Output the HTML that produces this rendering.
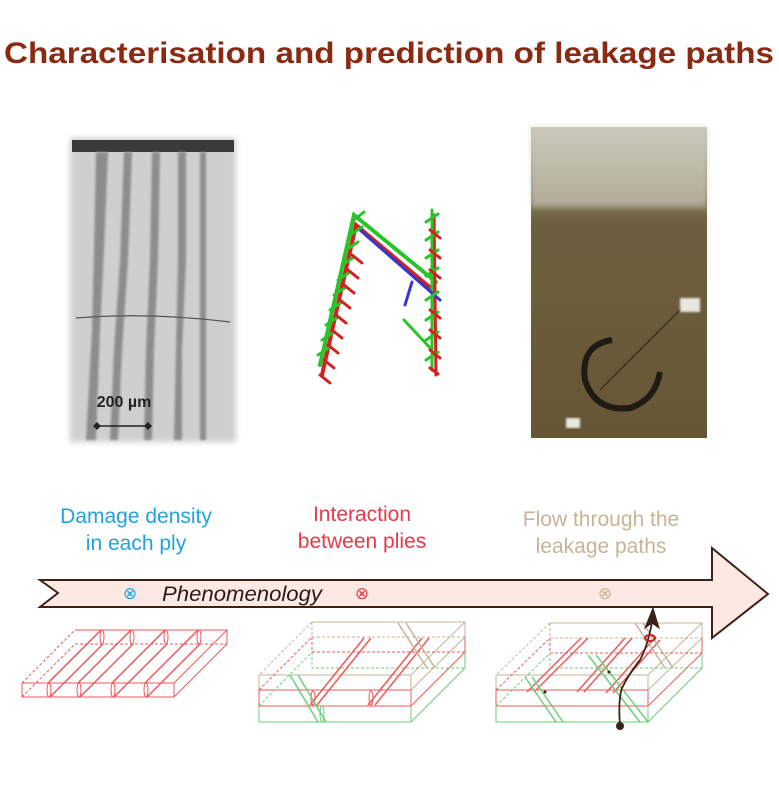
<!DOCTYPE html>
<html><head><meta charset="utf-8"><style>
body{margin:0;background:#fff;width:779px;height:781px;overflow:hidden;font-family:"Liberation Sans",Arial,sans-serif}
</style></head><body>
<svg width="779" height="781" viewBox="0 0 779 781" xmlns="http://www.w3.org/2000/svg">
<defs>
<filter id="bl"><feGaussianBlur stdDeviation="3"/></filter>
<filter id="bl1"><feGaussianBlur stdDeviation="1"/></filter>
<linearGradient id="rg" x1="0" y1="0" x2="0" y2="1">
<stop offset="0" stop-color="#c9c6b8"/><stop offset="0.2" stop-color="#9a9174"/><stop offset="0.3" stop-color="#6d5f3f"/><stop offset="1" stop-color="#675636"/></linearGradient>
</defs>
<text x="389" y="63" text-anchor="middle" font-size="30" font-weight="bold" fill="#8b2a12" textLength="770" lengthAdjust="spacingAndGlyphs">Characterisation and prediction of leakage paths</text>

<!-- left photo -->
<g>
<rect x="70" y="138" width="166" height="304" fill="#cfcfcb" filter="url(#bl)"/>
<rect x="72" y="140" width="162" height="12" fill="#3a3a3a"/>
<g fill="#8d8d8a" filter="url(#bl1)">
<path d="M96 152 L108 152 L104 250 L100 330 L96 440 L86 440 L92 330 L94 250 Z"/>
<path d="M124 152 L132 152 L128 260 L122 350 L118 440 L110 440 L114 350 L120 260 Z"/>
<path d="M152 152 L160 152 L158 260 L154 350 L152 440 L144 440 L146 350 L150 260 Z"/>
<path d="M178 152 L186 152 L186 260 L182 350 L182 440 L174 440 L176 350 L178 260 Z"/>
<path d="M200 152 L206 152 L206 440 L200 440 Z"/>
</g>
<path d="M76 318 Q150 312 230 322" stroke="#555" stroke-width="1.3" fill="none"/>
<text x="124" y="407" text-anchor="middle" font-size="16" font-weight="bold" fill="#222">200 µm</text>
<line x1="97" y1="426" x2="148" y2="426" stroke="#222" stroke-width="1.5"/>
<path d="M97 422 L101 426 L97 430 L93 426Z M148 422 L152 426 L148 430 L144 426Z" fill="#222"/>
</g>

<!-- middle sketch -->
<g stroke-linecap="round" fill="none">
<path d="M322 375 L356 225 L433 290" stroke="#d42020" stroke-width="4"/>
<path d="M320 365 L354 215 L436 282" stroke="#2ac42a" stroke-width="4"/>
<path d="M434 215 L436 375" stroke="#d42020" stroke-width="3"/>
<path d="M432 210 L432 370" stroke="#2ac42a" stroke-width="3"/>
<path d="M360 230 L440 300 M412 282 L405 305" stroke="#3636cc" stroke-width="3"/>
<path d="M404 320 L432 350" stroke="#2ac42a" stroke-width="3"/>
<path d="M318 355l12-8M322 340l12-8M326 325l12-8M330 310l12-8M334 295l12-8M338 280l12-8M342 265l12-8M346 250l12-8M350 235l12-8M354 220l10-8" stroke="#2ac42a" stroke-width="3"/>
<path d="M320 375l10 8M324 360l10 8M328 345l10 8M332 330l10 8M336 315l10 8M340 300l10 8M344 285l10 8M348 270l10 8M352 255l10 8" stroke="#d42020" stroke-width="3"/>
<path d="M426 222l12-8M426 240l12-8M426 258l12-8M426 276l12-8M426 300l12-8M426 320l12-8M426 340l12-8M426 360l12-8" stroke="#2ac42a" stroke-width="3"/>
<path d="M430 230l10 8M430 250l10 8M430 270l10 8M430 310l10 8M430 330l10 8M430 350l10 8M430 368l8 6" stroke="#d42020" stroke-width="3"/>
</g>

<!-- right photo -->
<g>
<rect x="531" y="127" width="176" height="311" fill="url(#rg)"/>
<rect x="531" y="127" width="176" height="80" fill="#cdcbbd" opacity="0.6" filter="url(#bl)"/>
<path d="M612 340 Q580 345 585 380 Q595 412 630 408 Q655 400 660 372" stroke="#1e1a14" stroke-width="6" fill="none"/>
<line x1="600" y1="390" x2="690" y2="300" stroke="#3a3020" stroke-width="1.5"/>
<rect x="680" y="298" width="20" height="14" fill="#e8e8e0" filter="url(#bl1)"/>
<rect x="566" y="418" width="14" height="10" fill="#e8e8e0" filter="url(#bl1)"/>
</g>

<text x="136" y="523" text-anchor="middle" font-size="21" fill="#1fa3e0">Damage density</text>
<text x="136" y="550" text-anchor="middle" font-size="21" fill="#1fa3e0">in each ply</text>
<text x="362" y="521" text-anchor="middle" font-size="21" fill="#e8394a">Interaction</text>
<text x="362" y="548" text-anchor="middle" font-size="21" fill="#e8394a">between plies</text>
<text x="601" y="526" text-anchor="middle" font-size="21" fill="#c7b396">Flow through the</text>
<text x="601" y="553" text-anchor="middle" font-size="21" fill="#c7b396">leakage paths</text>

<!-- arrow -->
<path d="M40 580 L712 580 L712 548 L768 594 L712 638 L712 607 L40 607 L58 593 Z" fill="#fde9e4" stroke="#3b2218" stroke-width="2"/>
<text x="130" y="599" text-anchor="middle" font-size="17" fill="#1fa3e0">⊗</text>
<text x="242" y="601" text-anchor="middle" font-size="21" font-style="italic" fill="#2a1a12" textLength="160" lengthAdjust="spacingAndGlyphs">Phenomenology</text>
<text x="362" y="599" text-anchor="middle" font-size="17" fill="#e8394a">⊗</text>
<text x="605" y="599" text-anchor="middle" font-size="17" fill="#c7b396">⊗</text>

<!-- block 1 -->
<g fill="none" stroke="#ec5a5a" stroke-width="1">
<rect x="22" y="683" width="152" height="14"/>
<path d="M75 630 L227 630 L227 644 L174 697 M174 683 L227 630"/>
<path d="M22 683 L75 630 M22 697 L75 644 M75 644 L227 644" stroke-dasharray="3,2"/>
<path d="M50 697 L103 644 M48 683 L101 630 M80 697 L133 644 M78 683 L131 630 M114 697 L167 644 M112 683 L165 630 M147 697 L200 644 M145 683 L198 630" stroke-width="1.5"/>
<ellipse cx="49" cy="690" rx="2" ry="7"/><ellipse cx="79" cy="690" rx="2" ry="7"/><ellipse cx="113" cy="690" rx="2" ry="7"/><ellipse cx="146" cy="690" rx="2" ry="7"/>
<ellipse cx="102" cy="637" rx="2" ry="7"/><ellipse cx="132" cy="637" rx="2" ry="7"/><ellipse cx="166" cy="637" rx="2" ry="7"/><ellipse cx="199" cy="637" rx="2" ry="7"/>
</g>

<!-- block 2 -->
<g fill="none" stroke-width="1">
<path d="M259 675 L411 675 L411 690 M259 690 L259 675" stroke="#c7b396"/>
<path d="M259 690 L411 690 L411 706 L259 706 Z" stroke="#ec5a5a"/>
<path d="M259 706 L259 722 L411 722 L411 706" stroke="#6ccf7a"/>
<path d="M312 622 L465 622 L465 637 L411 690 M411 675 L465 622" stroke="#c7b396"/>
<path d="M465 637 L465 652 L411 706" stroke="#ec5a5a"/>
<path d="M465 652 L465 668 L411 722" stroke="#6ccf7a"/>
<path d="M312 622 L259 675 M312 622 L312 637 L465 637" stroke="#c7b396" stroke-dasharray="3,2"/>
<path d="M312 637 L312 652 L465 652 M259 690 L312 637" stroke="#ec5a5a" stroke-dasharray="3,2"/>
<path d="M312 652 L312 668 L465 668 M259 706 L312 652" stroke="#6ccf7a" stroke-dasharray="3,2"/>
<path d="M310 705 L364 638 M317 705 L371 638 M368 705 L422 638 M375 705 L429 638" stroke="#ec5a5a" stroke-width="1.5"/>
<ellipse cx="313" cy="698" rx="2" ry="7" stroke="#ec5a5a"/><ellipse cx="371" cy="698" rx="2" ry="7" stroke="#ec5a5a"/>
<path d="M290 675 L318 722 M298 675 L326 722" stroke="#6ccf7a" stroke-width="1.5"/>
<ellipse cx="322" cy="714" rx="2" ry="8" stroke="#6ccf7a"/>
<path d="M398 623 L427 668 M406 623 L435 668" stroke="#c7b396" stroke-width="1.5"/>
</g>

<!-- block 3 -->
<g fill="none" stroke-width="1">
<path d="M496 675 L648 675 L648 690 M496 690 L496 675" stroke="#c7b396"/>
<path d="M496 690 L648 690 L648 706 L496 706 Z" stroke="#ec5a5a"/>
<path d="M496 706 L496 722 L648 722 L648 706" stroke="#6ccf7a"/>
<path d="M550 623 L702 623 L702 638 L648 690 M648 675 L702 623" stroke="#c7b396"/>
<path d="M702 638 L702 653 L648 706" stroke="#ec5a5a"/>
<path d="M702 653 L702 668 L648 722" stroke="#6ccf7a"/>
<path d="M550 623 L496 675 M550 623 L550 638 L702 638" stroke="#c7b396" stroke-dasharray="3,2"/>
<path d="M550 638 L550 653 L702 653 M496 690 L550 638" stroke="#ec5a5a" stroke-dasharray="3,2"/>
<path d="M550 653 L550 668 L702 668 M496 706 L550 653" stroke="#6ccf7a" stroke-dasharray="3,2"/>
<path d="M527 692 L581 638 M534 692 L588 638 M577 692 L625 638 M584 692 L632 638 M606 693 L653 640 M613 693 L660 640" stroke="#ec5a5a" stroke-width="1.5"/>
<path d="M525 677 L556 722 M532 677 L563 722 M588 655 L640 722 M596 655 L648 722" stroke="#6ccf7a" stroke-width="1.5"/>
<path d="M635 623 L665 668 M643 623 L673 668" stroke="#c7b396" stroke-width="1.5"/>
<circle cx="545" cy="692" r="1.5" fill="#3b2218" stroke="none"/>
<circle cx="609" cy="672" r="1.5" fill="#3b2218" stroke="none"/>
<path d="M620 726 Q618 700 622 688 Q630 672 640 660 Q648 645 652 622" stroke="#3b2218" stroke-width="1.8"/>
<path d="M653 608 L645 628 L652 623 L659 628 Z" fill="#3b2218" stroke="#3b2218"/>
<ellipse cx="650" cy="638" rx="5" ry="3" stroke="#c02020" stroke-width="2"/>
<circle cx="620" cy="726" r="4" fill="#3b2218" stroke="none"/>
</g>
</svg>
</body></html>
